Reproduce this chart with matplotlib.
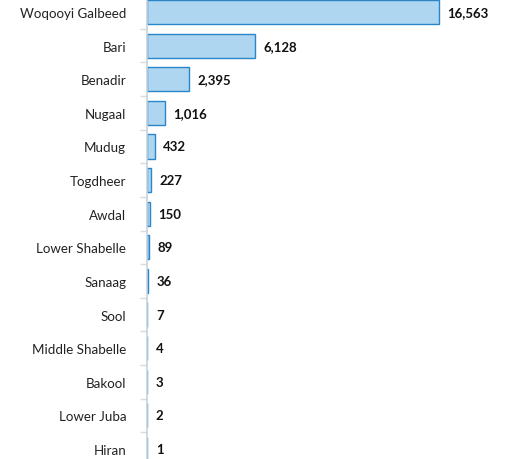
import matplotlib.pyplot as plt
from matplotlib.ticker import FixedLocator

regions = ['Woqooyi Galbeed', 'Bari', 'Benadir', 'Nugaal', 'Mudug', 'Togdheer',
           'Awdal', 'Lower Shabelle', 'Sanaag', 'Sool', 'Middle Shabelle',
           'Bakool', 'Lower Juba', 'Hiran']
cases = [16563, 6128, 2395, 1016, 432, 227, 150, 89, 36, 7, 4, 3, 2, 1]

plt.rcParams['font.family'] = ['Lato', 'DejaVu Sans']

fig = plt.figure(figsize=(5.06, 4.6), dpi=100)
# axes roughly placed like the original (the plot area is a bit cut off top and bottom)
ax = fig.add_axes([147 / 506, -6.8 / 460, 352 / 506, 470.6 / 460])

ypos = list(range(len(regions)))
ax.barh(ypos, cases, height=0.72, color='#AFD6F1', edgecolor='#2A86C8', linewidth=1.0)

for y, v in zip(ypos, cases):
    ax.text(v + 500, y, f'{v:,}', va='center', ha='left', fontsize=9.5,
            fontweight='bold', color='#111111')

ax.set_xlim(0, 20000)
ax.set_ylim(len(regions) - 0.5, -0.5)
ax.set_yticks(ypos)
ax.set_yticklabels(regions, fontsize=9.6, color='#222222')
ax.yaxis.set_minor_locator(FixedLocator([i + 0.5 for i in range(-1, len(regions))]))
ax.tick_params(axis='y', which='major', length=0, pad=15)
ax.tick_params(axis='y', which='minor', length=5, color='#DADADA', width=1)
ax.set_xticks([])
for s in ['top', 'right', 'bottom']:
    ax.spines[s].set_visible(False)
ax.spines['left'].set_color('#C5D3DF')
ax.spines['left'].set_linewidth(1.2)

fig.savefig('out.png', dpi=100)
